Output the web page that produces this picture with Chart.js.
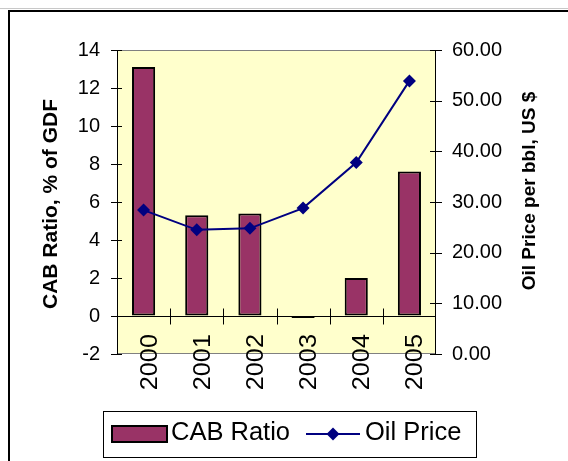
<!DOCTYPE html>
<html><head><meta charset="utf-8">
<script src="https://cdn.jsdelivr.net/npm/chart.js@4.4.1/dist/chart.umd.min.js"></script>
<style>html,body{margin:0;padding:0;background:#fff;overflow:hidden;} #wrap{width:568px;height:461px;position:relative;}</style>
</head><body><div id="wrap"><canvas id="c" width="568" height="461"></canvas></div>
<script>
// ---- data ----
const categories = ['2000', '2001', '2002', '2003', '2004', '2005'];
const cabRatio = [13.1, 5.3, 5.4, -0.1, 2.0, 7.6];
const oilPrice = [28.4, 24.5, 24.8, 28.8, 37.8, 53.9];
const leftTicks = [-2, 0, 2, 4, 6, 8, 10, 12, 14];
const rightTicks = [0, 10, 20, 30, 40, 50, 60];
const leftTitle = 'CAB Ratio, % of GDF';
const rightTitle = 'Oil Price per bbl, US $';

const FONT = "'Liberation Sans', Arial, Helvetica, sans-serif";
const BAR = '#993366';
const LINE = '#000080';

function diamond(ctx, x, y, r) {
  ctx.beginPath();
  ctx.moveTo(x, y - r); ctx.lineTo(x + r, y); ctx.lineTo(x, y + r); ctx.lineTo(x - r, y);
  ctx.closePath(); ctx.fill();
}

const decor = {
  id: 'decor',
  beforeDraw(chart) {
    const { ctx, chartArea: a } = chart;
    ctx.save();
    ctx.fillStyle = '#fff'; ctx.fillRect(0, 0, chart.width, chart.height);
    ctx.fillStyle = '#c8c8c8'; ctx.fillRect(0, 8, chart.width, 1);
    ctx.strokeStyle = '#000'; ctx.lineWidth = 2;
    ctx.strokeRect(9, 11, chart.width + 40, chart.height + 40);
    ctx.fillStyle = '#FFFFCC';
    ctx.fillRect(a.left, a.top, a.right - a.left, a.bottom - a.top);
    ctx.strokeStyle = '#808080'; ctx.lineWidth = 1;
    ctx.strokeRect(a.left + 0.5, a.top + 0.5, a.right - a.left - 1, a.bottom - a.top - 1);
    ctx.restore();
  },
  beforeDatasetsDraw(chart) {
    const { ctx, chartArea: a, scales } = chart;
    const y = scales.y, y1 = scales.y1, x = scales.x;
    ctx.save();
    ctx.strokeStyle = '#000'; ctx.lineWidth = 1;
    ctx.beginPath();
    ctx.moveTo(a.left + 0.5, a.top); ctx.lineTo(a.left + 0.5, a.bottom);
    ctx.moveTo(a.right - 0.5, a.top); ctx.lineTo(a.right - 0.5, a.bottom);
    leftTicks.forEach(v => {
      const py = Math.round(y.getPixelForValue(v)) + 0.5;
      ctx.moveTo(a.left - 6, py); ctx.lineTo(a.left + 5, py);
    });
    rightTicks.forEach(v => {
      const py = Math.round(y1.getPixelForValue(v)) + 0.5;
      ctx.moveTo(a.right - 6, py); ctx.lineTo(a.right + 6, py);
    });
    const y0 = Math.round(y.getPixelForValue(0)) + 0.5;
    ctx.moveTo(a.left, y0); ctx.lineTo(a.right, y0);
    for (let i = 1; i < categories.length; i++) {
      const bx = Math.round((x.getPixelForValue(i - 1) + x.getPixelForValue(i)) / 2) + 0.5;
      ctx.moveTo(bx, y0 - 8); ctx.lineTo(bx, y0 + 8);
    }
    ctx.stroke();
    ctx.restore();
  },
  afterDraw(chart) {
    const { ctx, scales } = chart;
    const x = scales.x;
    ctx.save();
    ctx.fillStyle = '#000';
    ctx.font = '23px ' + FONT;
    ctx.textAlign = 'right'; ctx.textBaseline = 'alphabetic';
    categories.forEach((c, i) => {
      const px = x.getPixelForValue(i);
      ctx.save();
      ctx.translate(px + 5, 334);
      ctx.rotate(-Math.PI / 2);
      ctx.scale(1.1, 1);
      ctx.fillText(c, 0, 8);
      ctx.restore();
    });
    ctx.font = 'bold 21px ' + FONT;
    ctx.textAlign = 'center';
    ctx.save(); ctx.translate(57, 204); ctx.rotate(-Math.PI / 2); ctx.fillText(leftTitle, 0, 0); ctx.restore();
    ctx.font = 'bold 19px ' + FONT;
    ctx.save(); ctx.translate(535, 191); ctx.rotate(-Math.PI / 2); ctx.fillText(rightTitle, 0, 0); ctx.restore();
    // legend
    const ds = chart.data.datasets;
    const barDs = ds.find(d => d.type === 'bar');
    const lineDs = ds.find(d => d.type === 'line');
    ctx.fillStyle = '#fff';
    ctx.fillRect(103, 411, 374, 47);
    ctx.strokeStyle = '#000'; ctx.lineWidth = 1;
    ctx.strokeRect(103.5, 411.5, 373, 46);
    ctx.fillStyle = BAR; ctx.fillRect(112, 426, 55, 16);
    ctx.lineWidth = 2; ctx.strokeRect(112, 426, 55, 16);
    ctx.fillStyle = '#000'; ctx.font = '25.5px ' + FONT; ctx.textAlign = 'left';
    ctx.fillText(barDs.label, 171, 440);
    ctx.strokeStyle = LINE; ctx.lineWidth = 2;
    ctx.beginPath(); ctx.moveTo(306, 434); ctx.lineTo(360, 434); ctx.stroke();
    ctx.fillStyle = LINE; diamond(ctx, 333, 434, 6.5);
    ctx.fillStyle = '#000';
    ctx.fillText(lineDs.label, 365, 440);
    ctx.restore();
  }
};

new Chart(document.getElementById('c'), {
  type: 'bar',
  data: {
    labels: categories,
    datasets: [
      {
        type: 'line', label: 'Oil Price', data: oilPrice, yAxisID: 'y1',
        borderColor: LINE, backgroundColor: LINE, borderWidth: 2,
        pointStyle: 'rectRot', pointRadius: 6.5, pointBackgroundColor: LINE,
        pointBorderColor: LINE, pointBorderWidth: 0, tension: 0, order: 0
      },
      {
        type: 'bar', label: 'CAB Ratio', data: cabRatio, yAxisID: 'y',
        backgroundColor: BAR, borderColor: '#000', borderWidth: 2, borderSkipped: false,
        barPercentage: 0.435, categoryPercentage: 1, order: 1
      }
    ]
  },
  options: {
    responsive: false, animation: false, devicePixelRatio: 1,
    layout: { padding: { top: 50, bottom: 107, left: 0, right: 0 } },
    plugins: { legend: { display: false }, tooltip: { enabled: false }, title: { display: false } },
    scales: {
      x: {
        display: true, offset: true,
        grid: { display: false }, border: { display: false },
        ticks: { display: false },
        afterFit(s) { s.height = 0; }
      },
      y: {
        position: 'left', min: -2, max: 14,
        afterBuildTicks(s) { s.ticks = leftTicks.map(v => ({ value: v })); },
        grid: { display: true, drawOnChartArea: false, drawTicks: false, color: 'transparent' },
        border: { display: false },
        ticks: { padding: 17, color: '#000', font: { family: FONT, size: 20 } },
        afterFit(s) { s.width = 117; }
      },
      y1: {
        position: 'right', min: 0, max: 60,
        afterBuildTicks(s) { s.ticks = rightTicks.map(v => ({ value: v })); },
        grid: { display: true, drawOnChartArea: false, drawTicks: false, color: 'transparent' },
        border: { display: false },
        ticks: { padding: 16, color: '#000', font: { family: FONT, size: 20 }, callback: v => Number(v).toFixed(2) },
        afterFit(s) { s.width = 132; }
      }
    }
  },
  plugins: [decor]
});
</script>
</body></html>
